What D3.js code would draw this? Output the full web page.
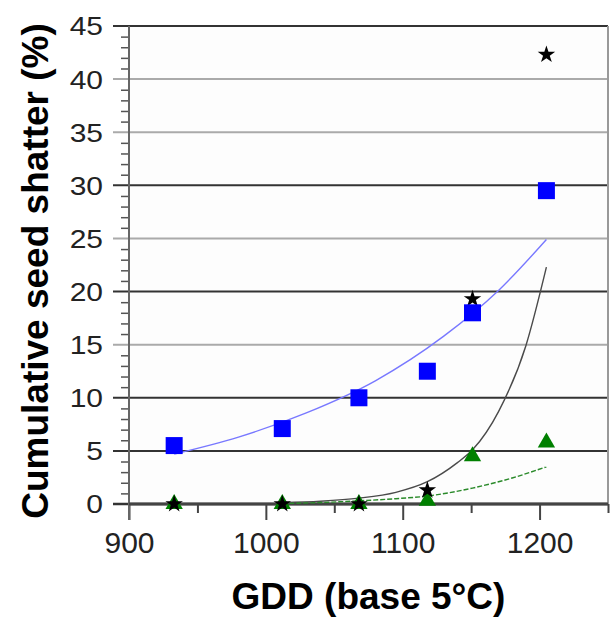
<!DOCTYPE html>
<html>
<head>
<meta charset="utf-8">
<script src="https://cdn.jsdelivr.net/npm/d3@7"></script>
<style>
  body { margin: 0; background: #fff; }
  text { font-family: "Liberation Sans", Arial, sans-serif; }
</style>
</head>
<body>
<div class="canvas"></div>
<script>
// GDD values where seed shatter was measured
const gdd = [933, 1012, 1068, 1118, 1151, 1205];
// cumulative seed shatter (%) per series
const squares = [5.5, 7.1, 10, 12.5, 18, 29.5];
const stars = [0, 0, 0, 1.3, 19.3, 42.3];
const triangles = [0, 0, 0, 0.3, 4.5, 5.8];

// trend lines
const blueTrendX = [933, 980, 1030, 1080, 1130, 1170, 1205];
const blueTrendY = [4.7, 6.3, 8.6, 11.6, 15.8, 20.1, 24.9];
const blackTrendX = [1012, 1040, 1068, 1095, 1118, 1140, 1151, 1170, 1190, 1205];
const blackTrendY = [0.12, 0.26, 0.55, 1.1, 2.1, 3.9, 5.1, 8.7, 14.9, 22.3];
const greenTrendX = [1012, 1040, 1068, 1095, 1118, 1151, 1180, 1205];
const greenTrendY = [0.05, 0.14, 0.3, 0.5, 0.75, 1.5, 2.45, 3.5];

const xMajor = [900, 1000, 1100, 1200];
const xMinor = [950, 1050, 1150, 1250];
const yTicks = [0, 5, 10, 15, 20, 25, 30, 35, 40, 45];
const yMinor = d3.range(0, 46).filter(v => v % 5 !== 0);
const darkLines = [0, 5, 10, 20, 30, 45];

const svg = d3.select('.canvas')
    .append('svg')
    .attr('width', 610)
    .attr('height', 626);

const x = d3.scaleLinear().domain([900, 1250]).range([129, 608]);
const y = d3.scaleLinear().domain([0, 45]).range([504, 26]);

svg.append('rect')
    .attr('x', x(900)).attr('y', y(45))
    .attr('width', x(1250) - x(900)).attr('height', y(0) - y(45))
    .attr('fill', '#fdfdfd');

// gridlines (they also make the major y ticks)
svg.selectAll('.grid')
    .data(yTicks)
    .enter()
    .append('line')
    .attr('x1', x(900) - 16)
    .attr('x2', x(1250))
    .attr('y1', d => y(d))
    .attr('y2', d => y(d))
    .attr('stroke', d => darkLines.includes(d) ? '#333' : '#aaa')
    .attr('stroke-width', d => d === 0 ? 2.5 : 2);

// y axis labels
svg.append('g')
    .attr('transform', `translate(${x(900)}, 0)`)
    .call(d3.axisLeft(y).tickValues(yTicks).tickSize(16).tickPadding(10))
    .call(g => g.select('.domain').remove())
    .call(g => g.selectAll('line').remove())
    .call(g => g.selectAll('text')
        .attr('font-size', 30)
        .attr('fill', '#222')
        .attr('dy', '0.36em')
        .attr('transform', 'scale(1, 0.83)'));

// minor y ticks
svg.append('g')
    .attr('transform', `translate(${x(900)}, 0)`)
    .call(d3.axisLeft(y).tickValues(yMinor).tickSize(8).tickFormat(''))
    .call(g => g.select('.domain').remove())
    .call(g => g.selectAll('line').attr('stroke', '#555').attr('stroke-width', 1.5));

// x axis
svg.append('g')
    .attr('transform', `translate(0, ${y(0)})`)
    .call(d3.axisBottom(x).tickValues(xMajor).tickSize(16).tickPadding(12)
        .tickFormat(d3.format('d')))
    .call(g => g.select('.domain').remove())
    .call(g => g.selectAll('line').attr('stroke', '#444').attr('stroke-width', 2))
    .call(g => g.selectAll('text').attr('font-size', 30).attr('fill', '#222'));

svg.append('g')
    .attr('transform', `translate(0, ${y(0)})`)
    .call(d3.axisBottom(x).tickValues(xMinor).tickSize(9).tickFormat(''))
    .call(g => g.select('.domain').remove())
    .call(g => g.selectAll('line').attr('stroke', '#444').attr('stroke-width', 2));

// axis lines and frame
svg.append('line')
    .attr('x1', x(900)).attr('x2', x(900))
    .attr('y1', y(45)).attr('y2', y(0) + 16)
    .attr('stroke', '#666').attr('stroke-width', 2);
svg.append('line')
    .attr('x1', x(1250)).attr('x2', x(1250))
    .attr('y1', y(45)).attr('y2', y(0))
    .attr('stroke', '#999').attr('stroke-width', 2);
svg.append('line')
    .attr('x1', x(900)).attr('x2', x(1250))
    .attr('y1', y(0)).attr('y2', y(0))
    .attr('stroke', '#444').attr('stroke-width', 3);

// trend lines
const line = d3.line()
    .x(d => x(d[0]))
    .y(d => y(d[1]))
    .curve(d3.curveMonotoneX);

const trends = [
    { xs: blueTrendX, ys: blueTrendY, colour: '#7878ff', dash: null },
    { xs: blackTrendX, ys: blackTrendY, colour: '#4a4a4a', dash: null },
    { xs: greenTrendX, ys: greenTrendY, colour: '#2a8a2a', dash: '5,2' }
];

svg.selectAll('.trend')
    .data(trends)
    .enter()
    .append('path')
    .attr('d', t => line(d3.zip(t.xs, t.ys)))
    .attr('fill', 'none')
    .attr('stroke', t => t.colour)
    .attr('stroke-width', 1.4)
    .attr('stroke-dasharray', t => t.dash);

// markers: triangles under stars, squares on top
const drawPoints = (values, type, size, colour) => {
    svg.append('g')
        .selectAll('path')
        .data(d3.zip(gdd, values))
        .enter()
        .append('path')
        .attr('transform', d => `translate(${x(d[0])}, ${y(d[1])})`)
        .attr('d', d3.symbol().type(type).size(size))
        .attr('fill', colour);
};

drawPoints(triangles, d3.symbolTriangle, 130, '#008000');
drawPoints(stars, d3.symbolStar, 95, '#000');
drawPoints(squares, d3.symbolSquare, 289, '#0000ff');

// axis titles
svg.append('text')
    .attr('x', (x(900) + x(1250)) / 2)
    .attr('y', 609)
    .attr('text-anchor', 'middle')
    .attr('font-size', 37)
    .attr('font-weight', 'bold')
    .text('GDD (base 5°C)');

svg.append('text')
    .attr('transform', `translate(48, ${(y(0) + y(45)) / 2 + 6}) rotate(-90)`)
    .attr('text-anchor', 'middle')
    .attr('font-size', 37)
    .attr('font-weight', 'bold')
    .text('Cumulative seed shatter (%)');
</script>
</body>
</html>
